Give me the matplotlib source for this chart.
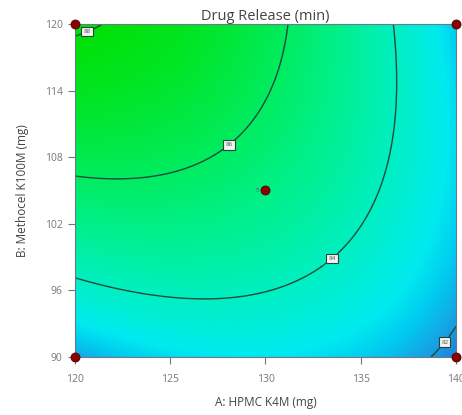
import numpy as np
import matplotlib
matplotlib.use("Agg")
import matplotlib.pyplot as plt
from matplotlib.colors import LinearSegmentedColormap, Normalize

# Factor ranges (actual units)
a_range = [120, 140]          # A: HPMC K4M (mg)
b_range = [90, 120]           # B: Methocel K100M (mg)

# Quadratic model in coded factors: const, A, B, AB, A^2, B^2
model_coef = [85.261, -1.506, 1.699, -1.304, -1.023, -0.614]

# Contour levels and label anchor points (actual units)
contour_levels = [82, 84, 86, 88]
label_points = [(139.3, 91.5), (133.4, 99.1), (128.0, 109.3), (120.6, 119.5)]

# Design points
design_a = [120, 120, 140, 140, 130]
design_b = [90, 120, 90, 120, 105]
center_runs = 5

x_ticks = [120, 125, 130, 135, 140]
y_ticks = [90, 96, 102, 108, 114, 120]


def response(a, b):
    x1 = (a - np.mean(a_range)) / ((a_range[1] - a_range[0]) / 2)
    x2 = (b - np.mean(b_range)) / ((b_range[1] - b_range[0]) / 2)
    c = model_coef
    return (c[0] + c[1] * x1 + c[2] * x2 + c[3] * x1 * x2
            + c[4] * x1 ** 2 + c[5] * x2 ** 2)


ga = np.linspace(a_range[0], a_range[1], 300)
gb = np.linspace(b_range[0], b_range[1], 300)
GA, GB = np.meshgrid(ga, gb)
Z = response(GA, GB)

cmap = LinearSegmentedColormap.from_list(
    "de_gradient",
    [(0.00, (0.12, 0.50, 0.85)),
     (0.07, (0.08, 0.66, 0.90)),
     (0.13, (0.00, 0.80, 0.94)),
     (0.20, (0.00, 0.92, 0.94)),
     (0.36, (0.00, 0.94, 0.75)),
     (0.55, (0.00, 0.94, 0.52)),
     (0.70, (0.00, 0.92, 0.33)),
     (0.85, (0.00, 0.90, 0.14)),
     (1.00, (0.00, 0.88, 0.00))])
norm = Normalize(vmin=81.7, vmax=88.2)

plt.rcParams["font.family"] = ["Open Sans", "DejaVu Sans"]
fig = plt.figure(figsize=(4.62, 4.15), dpi=100)
ax = fig.add_axes([0.1623, 0.1398, 0.8247, 0.8024])

ax.imshow(Z, origin="lower", extent=[*a_range, *b_range], aspect="auto",
          cmap=cmap, norm=norm, interpolation="bilinear")
cs = ax.contour(GA, GB, Z, levels=contour_levels, colors=["#1f4a3a"],
                linewidths=1.0)
labels = ax.clabel(cs, fmt="%d", fontsize=4.5, inline=True, inline_spacing=3,
                   manual=label_points)
for t in labels:
    t.set_rotation(0)
    t.set_color("#555555")
    t.set_bbox(dict(boxstyle="square,pad=0.35", fc="#f2f2f2", ec="#1f4a3a",
                    lw=0.8))

ax.scatter(design_a, design_b, s=42, color="#8b0000", edgecolors="#4a0000",
           linewidths=0.6, zorder=5, clip_on=False)
ax.text(design_a[-1] - 0.35, design_b[-1], str(center_runs), fontsize=4.5,
        color="#555555", ha="right", va="center")

ax.set_xlim(a_range)
ax.set_ylim(b_range)
ax.set_xticks(x_ticks)
ax.set_yticks(y_ticks)
ax.tick_params(direction="out", length=5, width=0.8, colors="#777777",
               labelsize=7.5, labelcolor="#777777")
ax.tick_params(axis="x", pad=7)
ax.tick_params(axis="y", pad=4)
for s in ax.spines.values():
    s.set_color("#6a7a8a")
    s.set_linewidth(0.8)

ax.set_title("Drug Release (min)", fontsize=10.5, color="#444444", pad=2)
ax.set_xlabel("A: HPMC K4M (mg)", fontsize=8.5, color="#444444", labelpad=8)
ax.set_ylabel("B: Methocel K100M (mg)", fontsize=8.5, color="#444444",
              labelpad=11)

fig.savefig("out.png", dpi=100)
